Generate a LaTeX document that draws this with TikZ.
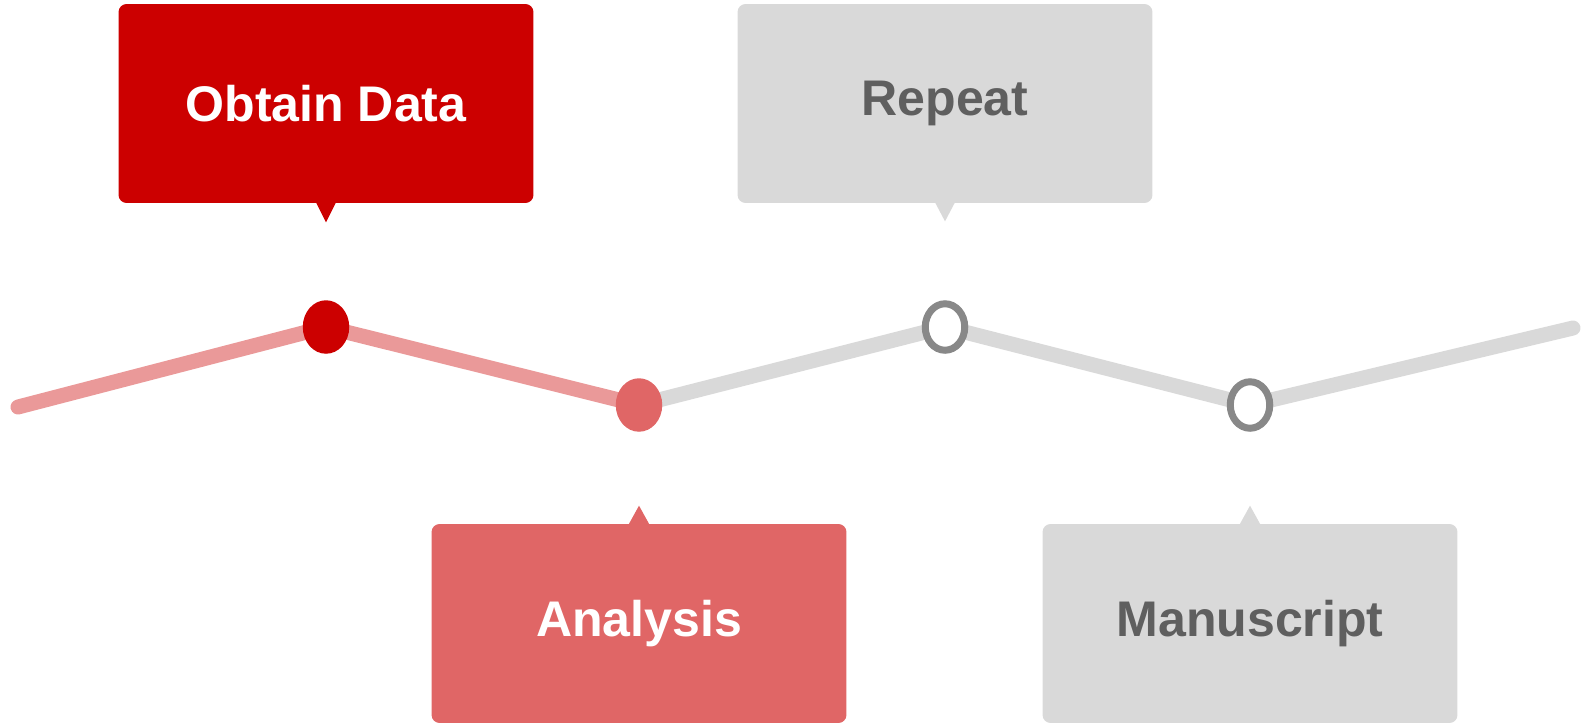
\documentclass[tikz,border=0pt]{standalone}
\usepackage{fontspec}
\setmainfont{Liberation Sans}
\usetikzlibrary{shapes.geometric,backgrounds}

\definecolor{obtainred}{HTML}{CC0000}
\definecolor{analysisred}{HTML}{E06666}
\definecolor{trackpink}{HTML}{EA9999}
\definecolor{boxgray}{HTML}{D9D9D9}
\definecolor{textgray}{HTML}{5F5F5F}
\definecolor{ringgray}{HTML}{888888}

\begin{document}
\begin{tikzpicture}[x=0.02cm, y=-0.02cm,
    box/.style={rounded corners=0.16cm, minimum width=8.3cm, minimum height=3.98cm, inner sep=0pt,
        font=\fontsize{28.5}{30}\selectfont\bfseries},
    dot/.style={ellipse, inner sep=0pt, minimum width=0.93cm, minimum height=1.07cm},
    ring/.style={ellipse, inner sep=0pt, draw=ringgray, line width=0.14cm, fill=white,
        minimum width=0.79cm, minimum height=0.93cm},
    track/.style={line width=0.3cm, line cap=round, line join=round}]
    \useasboundingbox (0,0) rectangle (1584,724);

    % Milestones on the track
    \node[dot, fill=obtainred] (d1) at (326,327) {};
    \node[dot, fill=analysisred] (d2) at (639,405) {};
    \node[ring] (d3) at (945,327) {};
    \node[ring] (d4) at (1250,405) {};
    \coordinate (start) at (18,407);
    \coordinate (finish) at (1573,328);

    % Track (done part and open part), behind the milestones
    \begin{scope}[on background layer]
        \draw[track, trackpink] (start) -- (d1.center) -- (d2.center);
        \draw[track, boxgray] (d2.center) -- (d3.center) -- (d4.center) -- (finish);
    \end{scope}

    % Callouts above the track
    \node[box, fill=obtainred, text=white] (obtain) at (326,103.5) {Obtain Data};
    \fill[obtainred] (obtain.south) ++(-10,-1) -- ++(20,0) -- ++(-10,20) -- cycle;
    \node[box, fill=boxgray, text=textgray] (repeat) at (945,103.5) {Repeat};
    \fill[boxgray] (repeat.south) ++(-10,-1) -- ++(20,0) -- ++(-10,19) -- cycle;

    % Callouts below the track
    \node[box, fill=analysisred, text=white] (analysis) at (639,623.5) {Analysis};
    \fill[analysisred] (analysis.north) ++(-10.5,1) -- ++(21,0) -- ++(-10.5,-19) -- cycle;
    \node[box, fill=boxgray, text=textgray] (manuscript) at (1250,623.5) {Manuscript};
    \fill[boxgray] (manuscript.north) ++(-10.5,1) -- ++(21,0) -- ++(-10.5,-19) -- cycle;
\end{tikzpicture}
\end{document}
